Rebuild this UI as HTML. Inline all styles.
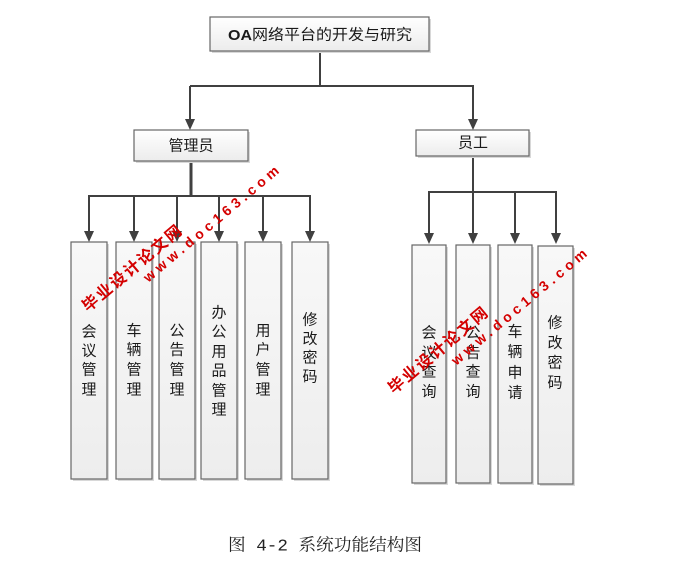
<!DOCTYPE html>
<html>
<head>
<meta charset="utf-8">
<style>
html,body{margin:0;padding:0;background:#fff;}
svg{display:block;}
.lbl{font-family:"Liberation Sans","Noto Sans CJK SC",sans-serif;font-size:15px;fill:#1a1a1a;}
.wm{font-family:"Liberation Sans","Noto Sans CJK SC",sans-serif;font-weight:bold;fill:#d40000;}
</style>
</head>
<body>
<svg width="675" height="562" viewBox="0 0 675 562" xmlns="http://www.w3.org/2000/svg">
<defs>
<linearGradient id="g" x1="0" y1="0" x2="0" y2="1">
<stop offset="0" stop-color="#ffffff"/>
<stop offset="1" stop-color="#ececec"/>
</linearGradient>
<linearGradient id="gv" x1="0" y1="0" x2="0" y2="1">
<stop offset="0" stop-color="#f8f8f8"/>
<stop offset="1" stop-color="#ededed"/>
</linearGradient>
</defs>

<!-- connectors -->
<g stroke="#404040" stroke-width="2" fill="none">
<line x1="320" y1="51" x2="320" y2="86"/>
<line x1="190" y1="86" x2="474" y2="86"/>
<line x1="190" y1="86" x2="190" y2="121"/>
<line x1="473" y1="86" x2="473" y2="121"/>
<line x1="191" y1="161" x2="191" y2="196" stroke-width="3"/>
<line x1="88" y1="196" x2="311" y2="196"/>
<line x1="89" y1="196" x2="89" y2="233"/>
<line x1="134" y1="196" x2="134" y2="233"/>
<line x1="177" y1="196" x2="177" y2="233"/>
<line x1="219" y1="196" x2="219" y2="233"/>
<line x1="263" y1="196" x2="263" y2="233"/>
<line x1="310" y1="196" x2="310" y2="233"/>
<line x1="473" y1="156" x2="473" y2="192"/>
<line x1="428" y1="192" x2="557" y2="192"/>
<line x1="429" y1="192" x2="429" y2="235"/>
<line x1="473" y1="192" x2="473" y2="235"/>
<line x1="515" y1="192" x2="515" y2="235"/>
<line x1="556" y1="192" x2="556" y2="235"/>
</g>
<g fill="#404040">
<polygon points="185,119 195,119 190,130"/>
<polygon points="468,119 478,119 473,130"/>
<polygon points="84,231 94,231 89,242"/>
<polygon points="129,231 139,231 134,242"/>
<polygon points="172,231 182,231 177,242"/>
<polygon points="214,231 224,231 219,242"/>
<polygon points="258,231 268,231 263,242"/>
<polygon points="305,231 315,231 310,242"/>
<polygon points="424,233 434,233 429,244"/>
<polygon points="468,233 478,233 473,244"/>
<polygon points="510,233 520,233 515,244"/>
<polygon points="551,233 561,233 556,244"/>
</g>

<!-- shadows -->
<g fill="#d8d8d8">
<rect x="212" y="19" width="219" height="34"/>
<rect x="136" y="132" width="114" height="31"/>
<rect x="418" y="132" width="113" height="26"/>
<rect x="73" y="244" width="36" height="237"/>
<rect x="118" y="244" width="36" height="237"/>
<rect x="161" y="244" width="36" height="237"/>
<rect x="203" y="244" width="36" height="237"/>
<rect x="247" y="244" width="36" height="237"/>
<rect x="294" y="244" width="36" height="237"/>
<rect x="414" y="247" width="34" height="238"/>
<rect x="458" y="247" width="34" height="238"/>
<rect x="500" y="247" width="34" height="238"/>
<rect x="540" y="248" width="35" height="238"/>
</g>

<!-- boxes -->
<g stroke="#666" stroke-width="1.2">
<rect x="210" y="17" width="219" height="34" fill="url(#g)"/>
<rect x="134" y="130" width="114" height="31" fill="url(#g)"/>
<rect x="416" y="130" width="113" height="26" fill="url(#g)"/>
<rect x="71" y="242" width="36" height="237" fill="url(#gv)"/>
<rect x="116" y="242" width="36" height="237" fill="url(#gv)"/>
<rect x="159" y="242" width="36" height="237" fill="url(#gv)"/>
<rect x="201" y="242" width="36" height="237" fill="url(#gv)"/>
<rect x="245" y="242" width="36" height="237" fill="url(#gv)"/>
<rect x="292" y="242" width="36" height="237" fill="url(#gv)"/>
<rect x="412" y="245" width="34" height="238" fill="url(#gv)"/>
<rect x="456" y="245" width="34" height="238" fill="url(#gv)"/>
<rect x="498" y="245" width="34" height="238" fill="url(#gv)"/>
<rect x="538" y="246" width="35" height="238" fill="url(#gv)"/>
</g>

<!-- labels -->
<text class="lbl" x="320" y="35" text-anchor="middle" dominant-baseline="central" textLength="184" lengthAdjust="spacingAndGlyphs"><tspan font-weight="bold">OA</tspan>网络平台的开发与研究</text>
<text class="lbl" x="191" y="146" text-anchor="middle" dominant-baseline="central">管理员</text>
<text class="lbl" x="473" y="143" text-anchor="middle" dominant-baseline="central">员工</text>

<g class="lbl" text-anchor="middle" dominant-baseline="central">
<text x="89" y="332">会</text><text x="89" y="351">议</text><text x="89" y="370">管</text><text x="89" y="390">理</text>
<text x="134" y="331">车</text><text x="134" y="350">辆</text><text x="134" y="370">管</text><text x="134" y="390">理</text>
<text x="177" y="331">公</text><text x="177" y="350">告</text><text x="177" y="370">管</text><text x="177" y="390">理</text>
<text x="219" y="313">办</text><text x="219" y="332">公</text><text x="219" y="352">用</text><text x="219" y="371">品</text><text x="219" y="391">管</text><text x="219" y="410">理</text>
<text x="263" y="331">用</text><text x="263" y="350">户</text><text x="263" y="370">管</text><text x="263" y="390">理</text>
<text x="310" y="320">修</text><text x="310" y="339">改</text><text x="310" y="358">密</text><text x="310" y="377">码</text>
<text x="429" y="333">会</text><text x="429" y="353">议</text><text x="429" y="372">查</text><text x="429" y="392">询</text>
<text x="473" y="333">公</text><text x="473" y="353">告</text><text x="473" y="372">查</text><text x="473" y="392">询</text>
<text x="515" y="332">车</text><text x="515" y="352">辆</text><text x="515" y="373">申</text><text x="515" y="393">请</text>
<text x="555" y="323">修</text><text x="555" y="343">改</text><text x="555" y="363">密</text><text x="555" y="383">码</text>
</g>

<!-- watermarks -->
<text class="wm" x="85" y="309" font-size="16" dominant-baseline="central" textLength="124" lengthAdjust="spacing" transform="rotate(-40 85 309)">毕业设计论文网</text>
<text class="wm" x="145" y="279" font-size="14" dominant-baseline="central" textLength="172" lengthAdjust="spacing" transform="rotate(-40 145 279)">www.doc163.com</text>
<text class="wm" x="391" y="391" font-size="16" dominant-baseline="central" textLength="124" lengthAdjust="spacing" transform="rotate(-40 391 391)">毕业设计论文网</text>
<text class="wm" x="453" y="362" font-size="14" dominant-baseline="central" textLength="172" lengthAdjust="spacing" transform="rotate(-40 453 362)">www.doc163.com</text>

<!-- caption -->
<text x="228" y="547" font-family="'Liberation Mono','Noto Serif CJK SC',serif" font-size="17" fill="#222" dominant-baseline="central" textLength="194" lengthAdjust="spacingAndGlyphs">图 4-2 系统功能结构图</text>
</svg>
</body>
</html>
